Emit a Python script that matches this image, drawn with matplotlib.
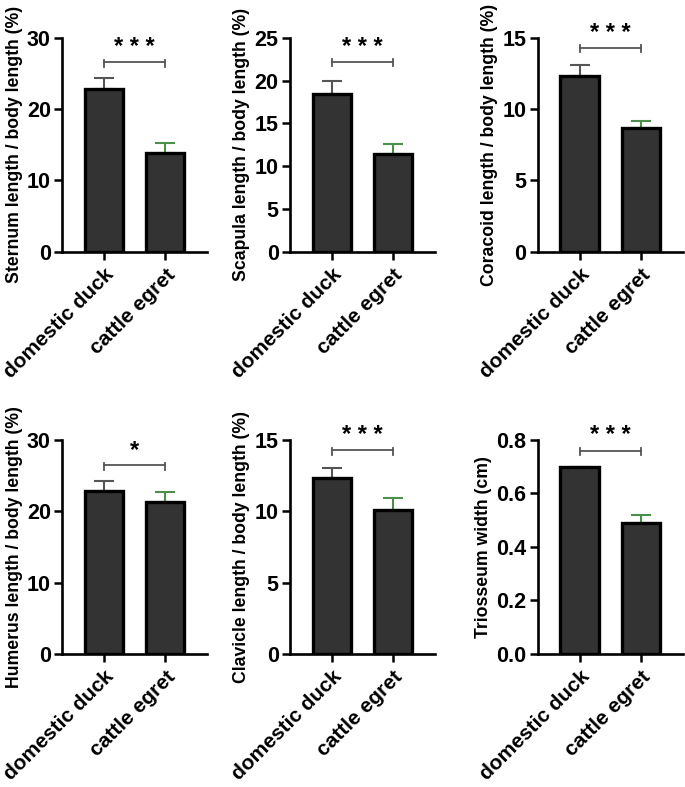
import matplotlib.pyplot as plt
import numpy as np

plt.rcParams['font.family'] = ['Liberation Sans', 'DejaVu Sans']
plt.rcParams['font.weight'] = 'bold'

groups = ['domestic duck', 'cattle egret']
ylabels = ['Sternum length / body length (%)', 'Scapula length / body length (%)',
           'Coracoid length / body length (%)', 'Humerus length / body length (%)',
           'Clavicle length / body length (%)', 'Triosseum width (cm)']
means = [[22.8, 13.9], [18.4, 11.4], [12.3, 8.7],
         [22.8, 21.3], [12.3, 10.1], [0.70, 0.49]]
errs = [[1.5, 1.3], [1.5, 1.2], [0.8, 0.5],
        [1.4, 1.4], [0.7, 0.8], [0.0, 0.03]]
ymax = [30, 25, 15, 30, 15, 0.8]
ystep = [10, 5, 5, 10, 5, 0.2]
brackets = [26.6, 22.2, 14.3, 26.5, 14.3, 0.76]
stars = ['* * *', '* * *', '* * *', '*', '* * *', '* * *']

fig = plt.figure(figsize=(6.85, 7.87), dpi=100)
lefts = [0.0905, 0.423, 0.785]
bottoms = [0.680, 0.169]

for i in range(6):
    ax = fig.add_axes([lefts[i % 3], bottoms[i // 3], 0.212, 0.272])
    x = np.arange(2)
    ax.bar(x, means[i], width=0.62, color='#333333', edgecolor='black', linewidth=2.4, zorder=3)
    for j, c in enumerate(['#555555', '#4a8f4a']):
        ax.errorbar(x[j], means[i][j], yerr=[[0], [errs[i][j]]], fmt='none',
                    ecolor=c, elinewidth=1.5, capsize=7.5, capthick=1.5, zorder=2)
    ax.set_xlim(-0.68, 1.68)
    ax.set_ylim(0, ymax[i])
    ax.set_yticks(np.arange(0, ymax[i] + ystep[i] / 2, ystep[i]))
    if ymax[i] < 1:
        ax.set_yticklabels(['%.1f' % v for v in np.arange(0, ymax[i] + 0.1, ystep[i])])
    ax.set_xticks(x)
    ax.set_xticklabels(groups, rotation=45, ha='right', rotation_mode='anchor', fontsize=15)
    ax.set_ylabel(ylabels[i], fontsize=12.7, fontweight='bold', labelpad=3)
    ax.tick_params(axis='y', labelsize=15.5, width=1.8, length=6, pad=2)
    ax.tick_params(axis='x', width=1.8, length=6)
    for s in ['top', 'right']:
        ax.spines[s].set_visible(False)
    for s in ['left', 'bottom']:
        ax.spines[s].set_linewidth(1.9)
    b = brackets[i]
    h = ymax[i] * 0.022
    ax.plot([0, 1], [b, b], color='#555555', lw=1.3, clip_on=False)
    ax.plot([0, 0], [b - h, b + h * 0.5], color='#555555', lw=1.3, clip_on=False)
    ax.plot([1, 1], [b - h, b + h * 0.5], color='#555555', lw=1.3, clip_on=False)
    ax.text(0.5, b + ymax[i] * 0.015, stars[i], ha='center', va='bottom', fontsize=17, fontweight='bold')

fig.savefig('out.png', dpi=100)
